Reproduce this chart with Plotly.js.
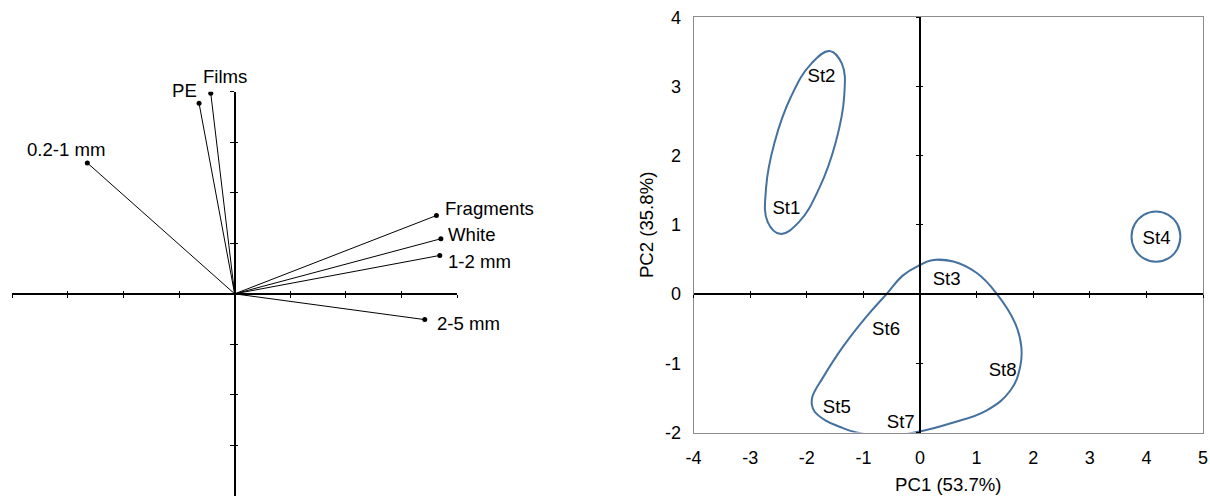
<!DOCTYPE html>
<html><head><meta charset="utf-8">
<script src="https://cdn.plot.ly/plotly-3.0.1.min.js"></script>
<style>html,body{margin:0;padding:0;background:#fff}</style>
</head><body><div id="chart" style="width:1210px;height:496px"></div>
<script>
// ---- Loadings (left panel) ----
const variables = ['PE', 'Films', '0.2-1 mm', 'Fragments', 'White', '1-2 mm', '2-5 mm'];
const loadPC1 = [-0.64, -0.43, -2.65, 3.63, 3.71, 3.69, 3.42];
const loadPC2 = [3.77, 3.97, 2.59, 1.55, 1.09, 0.76, -0.51];

// ---- Scores (right panel) ----
const stations = ['St1', 'St2', 'St3', 'St4', 'St5', 'St6', 'St7', 'St8'];
const scorePC1 = [-2.36, -1.74, 0.47, 4.18, -1.47, -0.60, -0.34, 1.46];
const scorePC2 = [1.22, 3.13, 0.20, 0.79, -1.65, -0.53, -1.87, -1.11];

// ---- Group outlines ----
const groupA_PC1 = [-1.59, -1.38, -1.34, -1.49, -1.78, -2.14, -2.47, -2.69, -2.72, -2.57, -2.28, -1.92];
const groupA_PC2 = [3.51, 3.33, 2.85, 2.19, 1.53, 1.04, 0.87, 1.04, 1.53, 2.19, 2.85, 3.33];
const groupB_PC1 = [0.21, 0.00, -0.30, -0.58, -0.95, -1.36, -1.71, -1.90, -1.91, -1.86, -1.68, -1.41, -1.12, -0.59, -0.03, 0.53, 1.18, 1.60, 1.77, 1.79, 1.68, 1.35, 1.01, 0.59];
const groupB_PC2 = [0.49, 0.42, 0.27, 0.01, -0.33, -0.76, -1.20, -1.48, -1.60, -1.70, -1.82, -1.92, -2.00, -2.05, -1.99, -1.87, -1.68, -1.39, -1.05, -0.76, -0.42, 0.01, 0.30, 0.47];
const groupC_PC1 = [4.60, 4.545, 4.387, 4.17, 3.953, 3.795, 3.737, 3.795, 3.953, 4.17, 4.387, 4.545];
const groupC_PC2 = [0.83, 1.012, 1.145, 1.194, 1.145, 1.012, 0.83, 0.648, 0.515, 0.466, 0.515, 0.648];

// ---- Tick labels (right panel) ----
const xTickVals = [-4, -3, -2, -1, 0, 1, 2, 3, 4, 5];
const xTickText = ['-4', '-3', '-2', '-1', '0', '1', '2', '3', '4', '5'];
const yTickVals = [-2, -1, 0, 1, 2, 3, 4];
const yTickText = ['-2', '-1', '0', '1', '2', '3', '4'];
const xTitle = 'PC1 (53.7%)';
const yTitle = 'PC2 (35.8%)';

// ---- Styling / placement (not data) ----
const FONT = 'Liberation Sans, Arial, sans-serif';
const FS = 18.6;
const labelPlace = [
  {xanchor: 'right', xshift: 0, yshift: 13},
  {xanchor: 'left', xshift: -10, yshift: 17},
  {xanchor: 'center', xshift: -21, yshift: 13},
  {xanchor: 'left', xshift: 7, yshift: 7},
  {xanchor: 'left', xshift: 5, yshift: 4},
  {xanchor: 'left', xshift: 6, yshift: -6},
  {xanchor: 'left', xshift: 10, yshift: -4}
];
const W = 1210, H = 496;
const leftX = [12.3 / W, 457 / W];
const leftY = [0, (H - 91.7) / H];
const rightX = [693.6 / W, 1203 / W];
const rightY = [(H - 432.5) / H, (H - 17.2) / H];
const LR = [-4, 4], RX = [-4, 5], RY = [-2, 4];
function frac(dom, rng, v) { return dom[0] + (v - rng[0]) / (rng[1] - rng[0]) * (dom[1] - dom[0]); }

// wrap the closed outline so every joint is an interior spline point
const loop = a => [a[a.length - 1]].concat(a, a.slice(0, 2));
const vecX = [], vecY = [];
loadPC1.forEach((v, i) => { vecX.push(0, v, null); vecY.push(0, loadPC2[i], null); });

const outlineStyle = {color: '#44719f', width: 2, shape: 'spline', smoothing: 1.2};
const ghost = (xa, ya, xs, ys) => ({x: xs, y: ys, xaxis: xa, yaxis: ya, mode: 'markers',
  marker: {opacity: 0}, hoverinfo: 'skip', showlegend: false});
const outline = (xs, ys) => ({x: loop(xs), y: loop(ys), xaxis: 'x2', yaxis: 'y2', mode: 'lines',
  line: outlineStyle, hoverinfo: 'skip', showlegend: false});

const traces = [
  {x: vecX, y: vecY, xaxis: 'x', yaxis: 'y', mode: 'lines', line: {color: '#000', width: 1}, hoverinfo: 'skip', showlegend: false},
  {x: loadPC1, y: loadPC2, xaxis: 'x', yaxis: 'y', mode: 'markers', marker: {color: '#000', size: 5}, text: variables, hoverinfo: 'text', showlegend: false},
  ghost('x3', 'y', loadPC1, loadPC2),
  ghost('x', 'y3', loadPC1, loadPC2),
  outline(groupA_PC1, groupA_PC2),
  outline(groupB_PC1, groupB_PC2),
  outline(groupC_PC1, groupC_PC2),
  {x: scorePC1, y: scorePC2, xaxis: 'x2', yaxis: 'y2', mode: 'text', text: stations, textposition: 'middle center',
   textfont: {family: FONT, size: FS, color: '#000'}, hoverinfo: 'text', showlegend: false},
  ghost('x4', 'y2', scorePC1, scorePC2),
  ghost('x5', 'y2', scorePC1, scorePC2),
  ghost('x2', 'y4', scorePC1, scorePC2),
  ghost('x2', 'y5', scorePC1, scorePC2)
];

const hidden = {showgrid: false, zeroline: false, showticklabels: false, automargin: false, fixedrange: true};
const lxPos = frac(leftY, LR, 0), lyPos = frac(leftX, LR, 0);
const rxPos = frac(rightY, RY, 0), ryPos = frac(rightX, RX, 0);

const layout = {
  width: W, height: H, margin: {l: 0, r: 0, t: 0, b: 0},
  paper_bgcolor: '#fff', plot_bgcolor: 'rgba(0,0,0,0)',
  font: {family: FONT, size: FS, color: '#000'},
  showlegend: false,
  // left panel
  xaxis: Object.assign({}, hidden, {domain: leftX, range: LR, dtick: 1, tick0: 0, anchor: 'free', position: lxPos,
    showline: true, linecolor: '#000', linewidth: 2, ticks: 'outside', ticklen: 3, tickwidth: 1, tickcolor: '#000'}),
  xaxis3: Object.assign({}, hidden, {overlaying: 'x', range: LR, dtick: 1, tick0: 0, anchor: 'free', position: lxPos,
    showline: false, ticks: 'inside', ticklen: 3, tickwidth: 1, tickcolor: '#000'}),
  yaxis: Object.assign({}, hidden, {domain: leftY, range: LR, dtick: 1, tick0: 0, anchor: 'free', position: lyPos,
    showline: true, linecolor: '#000', linewidth: 2, ticks: 'outside', ticklen: 4, tickwidth: 1, tickcolor: '#000'}),
  yaxis3: Object.assign({}, hidden, {overlaying: 'y', range: LR, dtick: 1, tick0: 0, anchor: 'free', position: lyPos,
    showline: false, ticks: 'inside', ticklen: 2, tickwidth: 1, tickcolor: '#000'}),
  // right panel
  xaxis2: {domain: rightX, range: RX, anchor: 'y2', tickmode: 'array', tickvals: xTickVals, ticktext: xTickText,
    showline: true, mirror: true, linecolor: '#8c8c8c', linewidth: 1, ticks: 'outside', ticklen: 9, tickcolor: 'rgba(0,0,0,0)',
    showgrid: false, zeroline: false, automargin: false, fixedrange: true, tickfont: {size: 18},
    title: {text: xTitle, font: {size: FS}, standoff: 10}},
  yaxis2: {domain: rightY, range: RY, anchor: 'x2', tickmode: 'array', tickvals: yTickVals, ticktext: yTickText,
    showline: true, mirror: true, linecolor: '#8c8c8c', linewidth: 1, ticks: 'outside', ticklen: 8, tickcolor: 'rgba(0,0,0,0)',
    showgrid: false, zeroline: false, automargin: false, fixedrange: true, tickfont: {size: 18},
    title: {text: yTitle, font: {size: FS}, standoff: 6}},
  xaxis4: Object.assign({}, hidden, {overlaying: 'x2', range: RX, dtick: 1, tick0: 0, anchor: 'free', position: rxPos,
    showline: true, linecolor: '#000', linewidth: 2, ticks: 'outside', ticklen: 3, tickwidth: 1, tickcolor: '#000'}),
  xaxis5: Object.assign({}, hidden, {overlaying: 'x2', range: RX, dtick: 1, tick0: 0, anchor: 'free', position: rxPos,
    showline: false, ticks: 'inside', ticklen: 3, tickwidth: 1, tickcolor: '#000'}),
  yaxis4: Object.assign({}, hidden, {overlaying: 'y2', range: RY, dtick: 1, tick0: 0, anchor: 'free', position: ryPos,
    showline: true, linecolor: '#000', linewidth: 2, ticks: 'outside', ticklen: 3, tickwidth: 1, tickcolor: '#000'}),
  yaxis5: Object.assign({}, hidden, {overlaying: 'y2', range: RY, dtick: 1, tick0: 0, anchor: 'free', position: ryPos,
    showline: false, ticks: 'inside', ticklen: 2, tickwidth: 1, tickcolor: '#000'}),
  annotations: variables.map((v, i) => ({
    x: loadPC1[i], y: loadPC2[i], xref: 'x', yref: 'y', text: v, showarrow: false,
    xanchor: labelPlace[i].xanchor, yanchor: 'middle', xshift: labelPlace[i].xshift, yshift: labelPlace[i].yshift,
    font: {family: FONT, size: FS, color: '#000'}
  }))
};

Plotly.newPlot('chart', traces, layout, {staticPlot: true, displayModeBar: false});
</script>
</body></html>
